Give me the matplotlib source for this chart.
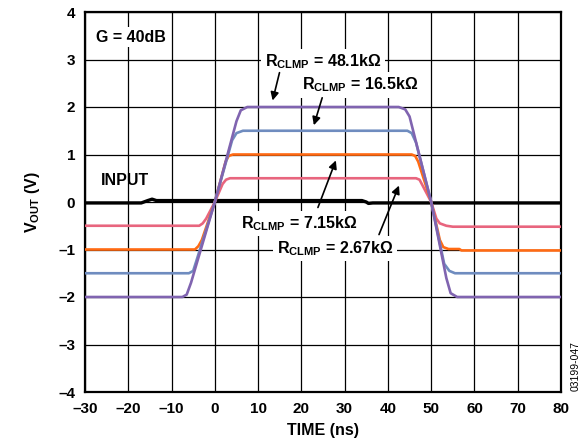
import matplotlib
matplotlib.use('Agg')
import matplotlib.pyplot as plt

plt.rcParams['font.family'] = ['Liberation Sans', 'DejaVu Sans']
plt.rcParams['mathtext.fontset'] = 'custom'
plt.rcParams['mathtext.rm'] = 'Liberation Sans:bold'
plt.rcParams['mathtext.bf'] = 'Liberation Sans:bold'
plt.rcParams['mathtext.it'] = 'Liberation Sans:bold'

# Breakpoints (time in ns, volts)
input_t = [-30, -17, -15.5, -14.5, -13.5, 34, 35, 35.5, 36.5, 80]
input_v = [-0.02, -0.02, 0.03, 0.06, 0.03, 0.03, 0.0, -0.03, -0.02, -0.02]

pink_t = [-30, -3.6, -2.8, -2.0, 0, 1.8, 2.6, 3.5, 46.5, 47.3, 48.0, 50.0, 51.2, 52.0, 53.5, 55.0, 80]
pink_v = [-0.5, -0.5, -0.45, -0.35, 0, 0.38, 0.47, 0.5, 0.5, 0.47, 0.35, 0, -0.35, -0.45, -0.5, -0.52, -0.52]

orange_t = [-30, -4.6, -3.8, -3.0, 0, 2.5, 3.2, 4.2, 45.5, 46.3, 47.0, 50.0, 52.0, 52.8, 54.0, 56.5, 57.0, 80]
orange_v = [-1.0, -1.0, -0.93, -0.8, 0, 0.85, 0.97, 1.0, 1.0, 0.97, 0.85, 0, -0.8, -0.95, -0.99, -0.99, -1.02, -1.02]

blue_t = [-30, -6.0, -5.0, -4.3, 0, 4.0, 5.0, 6.5, 44.5, 45.5, 46.5, 50.0, 53.0, 54.2, 55.5, 80]
blue_v = [-1.5, -1.5, -1.45, -1.25, 0, 1.3, 1.45, 1.5, 1.5, 1.45, 1.25, 0, -1.3, -1.45, -1.5, -1.5]

purple_t = [-30, -7.5, -6.5, -5.5, 0, 5.0, 6.0, 7.5, 42.5, 44.0, 45.0, 50.0, 53.5, 54.5, 56.0, 80]
purple_v = [-2.0, -2.0, -1.95, -1.7, 0, 1.7, 1.93, 2.0, 2.0, 1.95, 1.8, 0, -1.6, -1.92, -2.0, -2.0]

x_ticks = [-30, -20, -10, 0, 10, 20, 30, 40, 50, 60, 70, 80]
y_ticks = [-4, -3, -2, -1, 0, 1, 2, 3, 4]

fig = plt.figure(figsize=(5.87, 4.46), dpi=100)
ax = fig.add_axes([85 / 587, 54 / 446, 476 / 587, 380 / 446])

ax.plot(input_t, input_v, color='black', lw=2.4, zorder=3)
ax.plot(pink_t, pink_v, color='#E8657E', lw=1.9, zorder=4)
ax.plot(orange_t, orange_v, color='#FF6A13', lw=1.9, zorder=4)
ax.plot(blue_t, blue_v, color='#6F8CBF', lw=1.9, zorder=4)
ax.plot(purple_t, purple_v, color='#8064B0', lw=1.9, zorder=5)

ax.set_xlim(-30, 80)
ax.set_ylim(-4, 4)
ax.set_xticks(x_ticks)
ax.set_yticks(y_ticks)
ax.set_xticklabels([str(v).replace('-', '\u2013') for v in x_ticks])
ax.set_yticklabels([str(v).replace('-', '\u2013') for v in y_ticks])
ax.tick_params(length=0, labelsize=11, pad=7)
for lab in ax.get_xticklabels() + ax.get_yticklabels():
    lab.set_fontweight('bold')
ax.grid(True, color='black', lw=0.9)
ax.set_axisbelow(True)
for s in ax.spines.values():
    s.set_linewidth(1.6)

ax.set_xlabel('TIME (ns)', fontsize=11.5, fontweight='bold', labelpad=5)
ax.set_ylabel(r'$\mathbf{V_{OUT}}$ (V)', fontsize=11.5, fontweight='bold', labelpad=12)

box = dict(facecolor='white', edgecolor='none', pad=2)
ax.text(-19.4, 3.47, 'G = 40dB', fontsize=11.5, fontweight='bold', ha='center', va='center',
        bbox=box, zorder=6)
ax.text(-20.8, 0.46, 'INPUT', fontsize=11.5, fontweight='bold', ha='center', va='center', zorder=6)

labels = [
    (r'$\mathbf{R_{CLMP}}$ = 48.1k$\Omega$', (25.0, 2.95), (15.1, 2.78), (13.2, 2.08)),
    (r'$\mathbf{R_{CLMP}}$ = 16.5k$\Omega$', (33.6, 2.47), (25.0, 2.25), (22.7, 1.56)),
    (r'$\mathbf{R_{CLMP}}$ = 7.15k$\Omega$', (19.5, -0.45), (23.6, -0.17), (28.2, 0.93)),
    (r'$\mathbf{R_{CLMP}}$ = 2.67k$\Omega$', (27.8, -0.98), (37.7, -0.74), (42.8, 0.40)),
]
for text, pos, tail, tip in labels:
    ax.text(pos[0], pos[1], text, fontsize=11.5, fontweight='bold', ha='center', va='center',
            bbox=dict(facecolor='white', edgecolor='none', pad=2.5), zorder=6)
    ax.annotate('', xy=tip, xytext=tail,
                arrowprops=dict(arrowstyle='-|>', color='black', lw=1.2, mutation_scale=12),
                zorder=7)

fig.text(576 / 587, 1 - 366 / 446, '03199-047', rotation=90, fontsize=7.5,
         ha='center', va='center')

fig.savefig('out.png', dpi=100)
